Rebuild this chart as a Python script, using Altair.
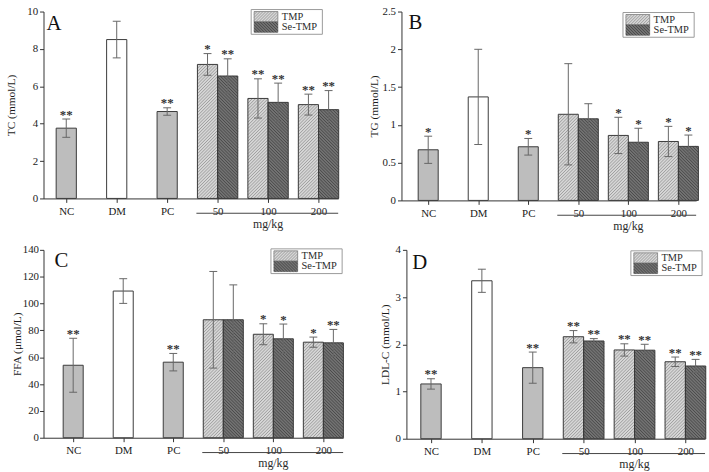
import json

import altair as alt
import pandas as pd

# ---------------------------------------------------------------- data
groups = ["NC", "DM", "PC", "50", "100", "200"]
controls = ["NC", "DM", "PC"]
doses = ["50", "100", "200"]
series = ["TMP", "Se-TMP"]

# A: TC (mmol/L)
tc_ctrl_mean = [3.76, 8.50, 4.65]
tc_ctrl_sd = [0.49, 0.98, 0.20]
tc_ctrl_sig = ["**", "", "**"]
tc_tmp_mean = [7.17, 5.35, 5.02]
tc_tmp_sd = [0.58, 1.05, 0.56]
tc_tmp_sig = ["*", "**", "**"]
tc_se_mean = [6.55, 5.14, 4.75]
tc_se_sd = [0.92, 1.03, 1.02]
tc_se_sig = ["**", "**", "**"]

# B: TG (mmol/L)
tg_ctrl_mean = [0.67, 1.37, 0.71]
tg_ctrl_sd = [0.18, 0.63, 0.11]
tg_ctrl_sig = ["*", "", "*"]
tg_tmp_mean = [1.14, 0.86, 0.78]
tg_tmp_sd = [0.67, 0.24, 0.20]
tg_tmp_sig = ["", "*", "*"]
tg_se_mean = [1.08, 0.77, 0.715]
tg_se_sd = [0.20, 0.185, 0.15]
tg_se_sig = ["", "*", "*"]

# C: FFA (μmol/L)
ffa_ctrl_mean = [54.0, 109.3, 56.3]
ffa_ctrl_sd = [20.1, 9.2, 6.5]
ffa_ctrl_sig = ["**", "", "**"]
ffa_tmp_mean = [87.9, 77.1, 71.2]
ffa_tmp_sd = [36.0, 7.8, 3.8]
ffa_tmp_sig = ["", "*", "*"]
ffa_se_mean = [87.9, 73.7, 70.7]
ffa_se_sd = [26.0, 11.0, 10.0]
ffa_se_sig = ["", "*", "**"]

# D: LDL-C (mmol/L)
ldl_ctrl_mean = [1.16, 3.345, 1.505]
ldl_ctrl_sd = [0.11, 0.245, 0.33]
ldl_ctrl_sig = ["**", "", "**"]
ldl_tmp_mean = [2.16, 1.88, 1.63]
ldl_tmp_sd = [0.13, 0.13, 0.10]
ldl_tmp_sig = ["**", "**", "**"]
ldl_se_mean = [2.07, 1.875, 1.54]
ldl_se_sd = [0.05, 0.125, 0.14]
ldl_se_sig = ["**", "**", "**"]

# ---------------------------------------------------------------- style
FONT = "Liberation Serif"
INK = "#2b2b2b"
HALF = 0.2          # half width of a single bar, in category units
CAP = 4.0           # half width of an error-bar cap, px
STEP = 3.2          # hatch spacing, px
FILLS = {"NC": "#bdbdbd", "DM": "#ffffff", "PC": "#bdbdbd",
         "TMP": "#d6d6d6", "Se-TMP": "#727272"}
HATCH = {"TMP": "#8f8f8f", "Se-TMP": "#404040"}


def build_frame(cm, cs, cg, tm, ts, tg, sm, ss, sg):
    rows = []
    for i, g in enumerate(controls):
        p = i + 1
        rows.append(dict(group=g, kind=g, x0=p - HALF, x1=p + HALF,
                         mean=cm[i], sd=cs[i], sig=cg[i]))
    for j, g in enumerate(doses):
        p = j + 4
        rows.append(dict(group=g, kind="TMP", x0=p - 2 * HALF, x1=p,
                         mean=tm[j], sd=ts[j], sig=tg[j]))
        rows.append(dict(group=g, kind="Se-TMP", x0=p, x1=p + 2 * HALF,
                         mean=sm[j], sd=ss[j], sig=sg[j]))
    df = pd.DataFrame(rows)
    df["xc"] = (df["x0"] + df["x1"]) / 2
    df["lo"] = df["mean"] - df["sd"]
    df["hi"] = df["mean"] + df["sd"]
    df["base"] = 0.0
    return df


def stripes(w, h, rising, step=STEP):
    """Diagonal hatch segments clipped to a w x h box (local px, y up)."""
    out = []
    if rising:
        c = -w + step / 2
        while c < h:
            ua, ub = max(0.0, -c), min(w, h - c)
            if ub > ua:
                out.append((ua, ua + c, ub, ub + c))
            c += step
    else:
        c = step / 2
        while c < w + h:
            ua, ub = max(0.0, c - h), min(w, c)
            if ub > ua:
                out.append((ua, c - ua, ub, c - ub))
            c += step
    return out


def hatch_frame(boxes, kx, ky, step=STEP):
    """Hatch strokes for boxes given as (kind, x0, x1, y0, y1) in data units."""
    segs = []
    for kind, x0, x1, y0, y1 in boxes:
        w = (x1 - x0) * kx
        h = (y1 - y0) * ky
        for ua, va, ub, vb in stripes(w, h, kind == "TMP", step):
            segs.append(dict(kind=kind, xa=x0 + ua / kx, ya=y0 + va / ky,
                             xb=x0 + ub / kx, yb=y0 + vb / ky))
    return pd.DataFrame(segs)


def panel(df, letter, ytitle, ymax, ystep, xdom, width, height,
          title_pad, letter_xy, legend_xy, label_pad=2):
    kx = width / (xdom[1] - xdom[0])
    ky = height / ymax
    xs = alt.Scale(domain=xdom, nice=False, zero=False)
    ys = alt.Scale(domain=[0, ymax], nice=False)
    label_expr = json.dumps(groups) + "[round(datum.value) - 1]"
    x_axis = alt.Axis(values=list(range(1, len(groups) + 1)), labelExpr=label_expr,
                      tickCount=len(groups), title=None, tickSize=4, labelPadding=3,
                      labelOverlap=False)
    nticks = int(round(ymax / ystep))
    y_axis = alt.Axis(values=[round(k * ystep, 6) for k in range(nticks + 1)],
                      tickCount=nticks + 1,
                      labelExpr="format(datum.value, '~g')", labelOverlap=False,
                      title=ytitle, titlePadding=title_pad,
                      tickSize=4, labelPadding=label_pad)
    fill_scale = alt.Scale(domain=list(FILLS), range=list(FILLS.values()))
    stroke_scale = alt.Scale(domain=series, range=[HATCH[s] for s in series])

    bars = alt.Chart(df).mark_rect().encode(
        x=alt.X("x0:Q", scale=xs, axis=x_axis, title=None),
        x2="x1",
        y=alt.Y("mean:Q", scale=ys, axis=y_axis, title=ytitle),
        y2="base",
        fill=alt.Fill("kind:N", legend=None, scale=fill_scale),
    )
    boxes = [(r.kind, r.x0, r.x1, 0.0, r.mean) for r in df.itertuples()
             if r.kind in series]
    hatch = alt.Chart(hatch_frame(boxes, kx, ky)).mark_rule(strokeWidth=0.8).encode(
        x="xa:Q", x2="xb", y="ya:Q", y2="yb",
        stroke=alt.Stroke("kind:N", legend=None, scale=stroke_scale),
    )
    outline = alt.Chart(df).mark_rect(fill="transparent", stroke="#3a3a3a",
                                      strokeWidth=1).encode(
        x="x0:Q", x2="x1", y="mean:Q", y2="base")
    err = alt.Chart(df).mark_rule(color="#666666", strokeWidth=1).encode(
        x="xc:Q", y="lo:Q", y2="hi")
    caps_base = alt.Chart(df).transform_calculate(
        c0=f"datum.xc - {CAP / kx}", c1=f"datum.xc + {CAP / kx}"
    ).mark_rule(color="#666666", strokeWidth=1)
    cap_hi = caps_base.encode(x="c0:Q", x2="c1", y="hi:Q")
    cap_lo = caps_base.encode(x="c0:Q", x2="c1", y="lo:Q")
    stars = alt.Chart(df).mark_text(font=FONT, fontSize=13, fontWeight="bold",
                                    color="#333333", baseline="alphabetic",
                                    dy=-0.5).encode(
        x="xc:Q", y="hi:Q", text="sig:N")

    one = pd.DataFrame({"k": [0]})
    dose_line = alt.Chart(one).mark_rule(color="#444444", strokeWidth=1).encode(
        x=alt.datum(3.58), x2=alt.datum(xdom[1]), y=alt.value(height + 15))
    dose_text = alt.Chart(one).mark_text(font=FONT, fontSize=12, color=INK,
                                         baseline="middle", text="mg/kg").encode(
        x=alt.datum(5), y=alt.value(height + 26))
    tag = alt.Chart(one).mark_text(font=FONT, fontSize=21, color="#111111",
                                   align="left", baseline="alphabetic",
                                   text=letter).encode(
        x=alt.value(letter_xy[0]), y=alt.value(letter_xy[1]))

    # key: framed box with two hatched swatches (placed in px, stored in data units)
    lx, ly = legend_xy
    sw, sh = 24, 10.5
    box = alt.Chart(one).mark_rect(fill="white", stroke="#9a9a9a", strokeWidth=1).encode(
        x=alt.value(lx), x2=alt.value(lx + 72), y=alt.value(ly),
        y2=alt.value(ly + 4 + 2 * sh))
    key = pd.DataFrame({"kind": series})
    key["kx0"] = xdom[0] + (lx + 3) / kx
    key["kx1"] = xdom[0] + (lx + 3 + sw) / kx
    key["ky1"] = [ymax - (ly + 2 + i * sh) / ky for i in range(len(series))]
    key["ky0"] = key["ky1"] - sh / ky
    key["ktx"] = xdom[0] + (lx + 31) / kx
    key["kty"] = (key["ky0"] + key["ky1"]) / 2
    kboxes = [(r.kind, r.kx0, r.kx1, r.ky0, r.ky1) for r in key.itertuples()]
    swatch = alt.Chart(key).mark_rect(stroke="#555555", strokeWidth=0.6).encode(
        x="kx0:Q", x2="kx1", y="ky0:Q", y2="ky1",
        fill=alt.Fill("kind:N", legend=None, scale=fill_scale),
    )
    swatch_hatch = alt.Chart(hatch_frame(kboxes, kx, ky, 3.0)).mark_rule(
        strokeWidth=0.8).encode(
        x="xa:Q", x2="xb", y="ya:Q", y2="yb",
        stroke=alt.Stroke("kind:N", legend=None, scale=stroke_scale),
    )
    key_text = alt.Chart(key).mark_text(font=FONT, fontSize=10.5, color=INK,
                                        align="left", baseline="middle").encode(
        x="ktx:Q", y="kty:Q", text="kind:N")

    return alt.layer(bars, hatch, outline, err, cap_hi, cap_lo, stars,
                     dose_line, dose_text, tag, box, swatch, swatch_hatch,
                     key_text).properties(width=width, height=height)


tc = build_frame(tc_ctrl_mean, tc_ctrl_sd, tc_ctrl_sig, tc_tmp_mean, tc_tmp_sd,
                 tc_tmp_sig, tc_se_mean, tc_se_sd, tc_se_sig)
tg = build_frame(tg_ctrl_mean, tg_ctrl_sd, tg_ctrl_sig, tg_tmp_mean, tg_tmp_sd,
                 tg_tmp_sig, tg_se_mean, tg_se_sd, tg_se_sig)
ffa = build_frame(ffa_ctrl_mean, ffa_ctrl_sd, ffa_ctrl_sig, ffa_tmp_mean, ffa_tmp_sd,
                  ffa_tmp_sig, ffa_se_mean, ffa_se_sd, ffa_se_sig)
ldl = build_frame(ldl_ctrl_mean, ldl_ctrl_sd, ldl_ctrl_sig, ldl_tmp_mean, ldl_tmp_sd,
                  ldl_tmp_sig, ldl_se_mean, ldl_se_sd, ldl_se_sig)

pa = panel(tc, "A", "TC (mmol/L)", 10, 2, [0.549, 6.39], 298, 189, 10, (3, 19), (210, -2))
pb = panel(tg, "B", "TG (mmol/L)", 2.5, 0.5, [0.466, 6.355], 298, 191, 2, (7, 18), (224, 1))
pc = panel(ffa, "C", "FFA (μmol/L)", 140, 20, [0.407, 6.395], 303, 190, 0, (11, 17), (230, -1),
           label_pad=1)
pd_ = panel(ldl, "D", "LDL-C (mmol/L)", 4, 1, [0.517, 6.386], 302, 191, 5, (6, 19), (227, 1))

chart = alt.vconcat(
    alt.hconcat(pa, pb, spacing=29),
    alt.hconcat(pc, pd_, spacing=35),
    spacing=12,
).properties(
    padding={"left": 6, "top": 3, "right": 2, "bottom": 0},
    background="white",
).configure_view(stroke=None).configure_axis(
    labelFont=FONT, titleFont=FONT, labelFontSize=11, titleFontSize=11.5,
    titleFontWeight="normal", labelColor="#1a1a1a", titleColor="#1a1a1a",
    domainColor="#333333", tickColor="#333333", grid=False,
)

chart.save("out.html", embed_options={"renderer": "svg", "actions": False})
